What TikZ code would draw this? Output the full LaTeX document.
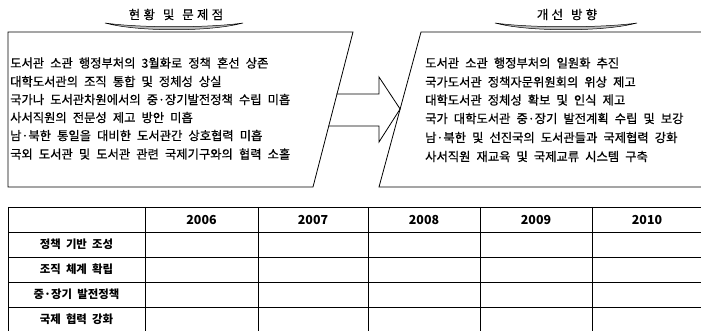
\documentclass[tikz,border=0pt]{standalone}
\usepackage{fontspec}
\setmainfont{Noto Sans CJK KR}[WordSpace=2.2,FakeBold=0.6]
\newfontfamily\titlefont{Noto Sans CJK KR}[LetterSpace=26,WordSpace=1.3,FakeBold=0.3]
\newfontfamily\tablefont{Noto Sans CJK KR}[WordSpace=2.0]
\begin{document}
\begin{tikzpicture}[x=1pt,y=-1pt,
  boxline/.style={draw=black,line width=0.8pt,line join=miter},
  swoosh/.style={draw=black,line width=0.5pt,fill=gray!55},
  titletext/.style={font=\titlefont\fontsize{12.5}{14}\selectfont,inner sep=0pt},
  bodytext/.style={font=\fontsize{12.3}{14}\selectfont,anchor=west,inner sep=0pt},
  gridline/.style={draw=black,line width=0.8pt},
  celltext/.style={font=\tablefont\bfseries\fontsize{11.4}{13}\selectfont,inner sep=0pt},
  yeartext/.style={font=\tablefont\bfseries\fontsize{12.4}{14}\selectfont,inner sep=0pt}]
\useasboundingbox (0,0) rectangle (701,331);
\fill[white] (0,0) rectangle (701,331);

% titles
\node[titletext] (t1) at (176,14.5) {현황 및 문제점};
\node[titletext] (t2) at (567,14.5) {개선 방향};
\path[swoosh] (105,23) .. controls (140,28) and (208,28) .. (243,23)
   .. controls (210,32) and (138,32) .. cycle;
\path[swoosh] (495,23) .. controls (530,28) and (602,28) .. (637,23)
   .. controls (604,32) and (528,32) .. cycle;

% left box
\draw[boxline] (353,32) -- (8,32) -- (8,187) -- (313,187) -- cycle;
% right box
\draw[boxline] (701,32) -- (421,32) -- (379,187) -- (701,187);

% arrow (left end on left box edge, tip on right box edge)
\draw[boxline] (336.4,94) -- (379,94) -- (379,77) -- (400.1,109) -- (379,142)
   -- (379,126) -- (328.3,126);

% left text
\node[bodytext] (l1) at (10,63) {도서관 소관 행정부처의 3월화로 정책 혼선 상존};
\node[bodytext] (l2) at (10,81.5) {대학도서관의 조직 통합 및 정체성 상실};
\node[bodytext] (l3) at (10,99.5) {국가나 도서관차원에서의 중·장기발전정책 수립 미흡};
\node[bodytext] (l4) at (10,117.5) {사서직원의 전문성 제고 방안 미흡};
\node[bodytext] (l5) at (10,135.5) {남·북한 통일을 대비한 도서관간 상호협력 미흡};
\node[bodytext] (l6) at (10,154) {국외 도서관 및 도서관 관련 국제기구와의 협력 소홀};

% right text
\node[bodytext] (r1) at (425,63) {도서관 소관 행정부처의 일원화 추진};
\node[bodytext] (r2) at (425,82) {국가도서관 정책자문위원회의 위상 제고};
\node[bodytext] (r3) at (425,100) {대학도서관 정체성 확보 및 인식 제고};
\node[bodytext] (r4) at (425,118.5) {국가 대학도서관 중·장기 발전계획 수립 및 보강};
\node[bodytext] (r5) at (425,137.5) {남·북한 및 선진국의 도서관들과 국제협력 강화};
\node[bodytext] (r6) at (425,156.5) {사서직원 재교육 및 국제교류 시스템 구축};

% table grid
\foreach \y in {207,232,257,282,307} { \draw[gridline] (8,\y) -- (701,\y); }
\foreach \x in {8,145,258,368,480,592} { \draw[gridline] (\x,207) -- (\x,331); }

% header
\node[yeartext] (y2006) at (201.5,219.5) {2006};
\node[yeartext] (y2007) at (313,219.5) {2007};
\node[yeartext] (y2008) at (424,219.5) {2008};
\node[yeartext] (y2009) at (536,219.5) {2009};
\node[yeartext] (y2010) at (647,219.5) {2010};

% row labels
\node[celltext] (row1) at (76.5,244.5) {정책 기반 조성};
\node[celltext] (row2) at (76.5,269.5) {조직 체계 확립};
\node[celltext] (row3) at (76.5,294.5) {중·장기 발전정책};
\node[celltext] (row4) at (76.5,319.5) {국제 협력 강화};
\end{tikzpicture}
\end{document}
